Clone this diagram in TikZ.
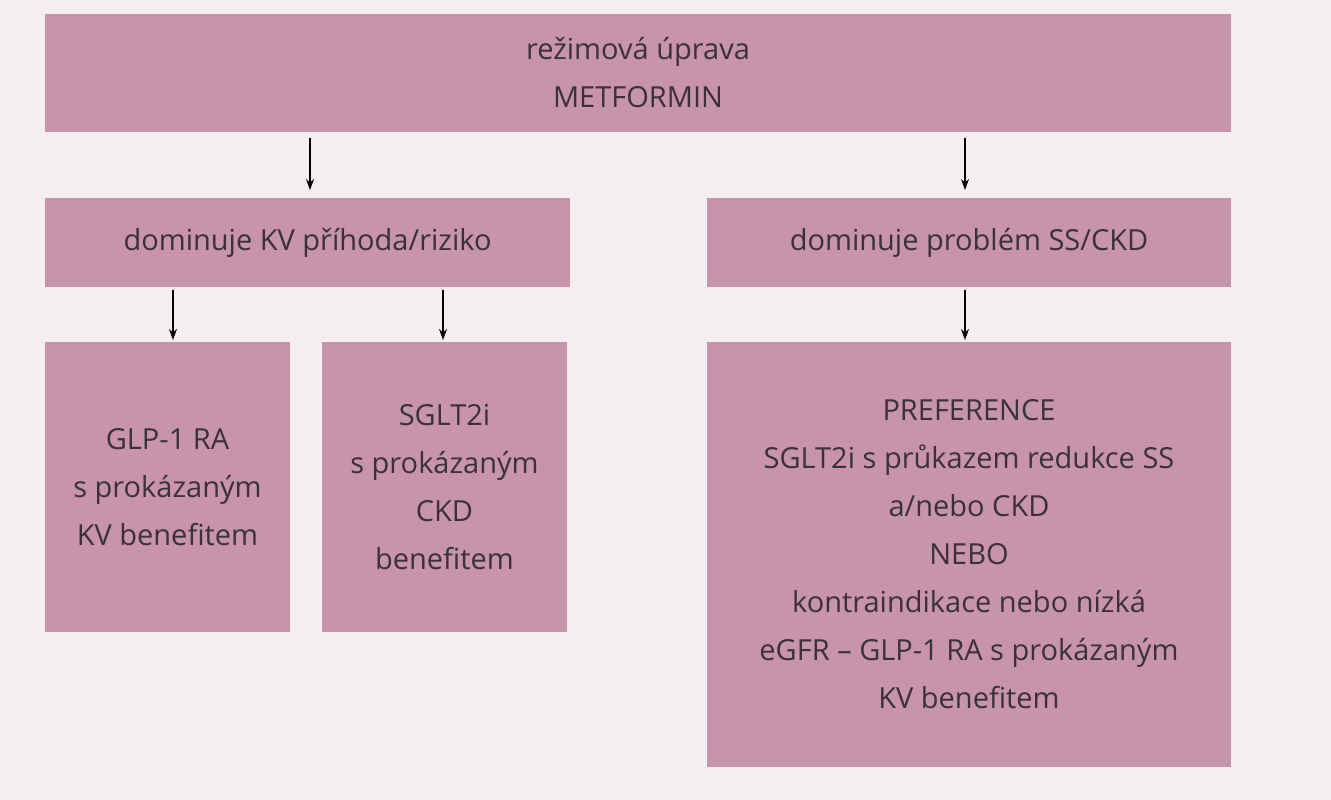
\documentclass[tikz,border=0pt]{standalone}
\usepackage{fontspec}
\setmainfont{Open Sans}
\usetikzlibrary{arrows.meta}
\definecolor{bg}{HTML}{F5EEF1}
\definecolor{boxc}{HTML}{C794AC}
\definecolor{txt}{HTML}{3A3236}
\begin{document}
\begin{tikzpicture}[x=1pt,y=-1pt,
  box/.style={fill=boxc,draw=none,align=center,text=txt,font=\fontsize{29}{48}\selectfont,inner sep=0pt},
  arr/.style={-{Stealth[length=11pt,width=8pt]},line width=1.4pt,draw=black}]
\fill[bg] (0,0) rectangle (1331,800);
\useasboundingbox (0,0) rectangle (1331,800);
\node[box,minimum width=1186pt,minimum height=118pt] (top) at (638,73) {režimová úprava\\METFORMIN};
\node[box,minimum width=525pt,minimum height=89pt] (kv) at (307.5,242.5) {dominuje KV příhoda/riziko};
\node[box,minimum width=524pt,minimum height=89pt] (ss) at (969,242.5) {dominuje problém SS/CKD};
\node[box,minimum width=245pt,minimum height=290pt] (glp) at (167.5,487) {GLP-1 RA\\s prokázaným\\KV benefitem};
\node[box,minimum width=245pt,minimum height=290pt] (sglt) at (444.5,487) {SGLT2i\\s prokázaným\\CKD\\benefitem};
\node[box,minimum width=524pt,minimum height=425pt] (pref) at (969,554.5) {PREFERENCE\\SGLT2i s průkazem redukce SS\\a/nebo CKD\\NEBO\\kontraindikace nebo nízká\\eGFR – GLP-1 RA s prokázaným\\KV benefitem};
\coordinate (a1) at (310,138); \coordinate (a2) at (965,138);
\coordinate (b1) at (173,290); \coordinate (b2) at (443,290); \coordinate (b3) at (965,290);
\draw[arr] (a1) -- (310,190);
\draw[arr] (a2) -- (965,190);
\draw[arr] (b1) -- (173,340);
\draw[arr] (b2) -- (443,340);
\draw[arr] (b3) -- (965,340);
\end{tikzpicture}
\end{document}
